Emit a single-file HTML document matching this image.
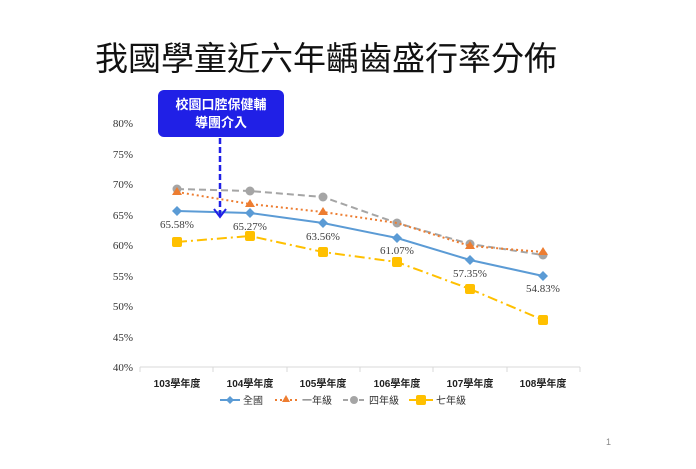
<!DOCTYPE html>
<html><head><meta charset="utf-8"><style>
body{margin:0;background:#fff;width:696px;height:464px;overflow:hidden}
</style></head><body>
<svg width="696" height="464" xmlns="http://www.w3.org/2000/svg">
<text x="326" y="70" font-size="33" text-anchor="middle" font-family="'Liberation Sans','Noto Sans CJK TC',sans-serif" fill="#111">我國學童近六年齲齒盛行率分佈</text>
<g font-family="'Liberation Serif',serif" font-size="11" fill="#333" text-anchor="end">
<text x="133" y="127">80%</text><text x="133" y="158">75%</text><text x="133" y="188">70%</text><text x="133" y="219">65%</text><text x="133" y="249">60%</text><text x="133" y="280">55%</text><text x="133" y="310">50%</text><text x="133" y="341">45%</text><text x="133" y="371">40%</text>
</g>
<line x1="140" y1="367" x2="580" y2="367" stroke="#d9d9d9"/>
<g stroke="#d9d9d9"><line x1="140" y1="367" x2="140" y2="372"/><line x1="213" y1="367" x2="213" y2="372"/><line x1="287" y1="367" x2="287" y2="372"/><line x1="360" y1="367" x2="360" y2="372"/><line x1="433" y1="367" x2="433" y2="372"/><line x1="507" y1="367" x2="507" y2="372"/><line x1="580" y1="367" x2="580" y2="372"/></g>
<g font-family="'Liberation Sans','Noto Sans CJK TC',sans-serif" font-size="10" fill="#222" text-anchor="middle" font-weight="bold">
<text x="177" y="387">103學年度</text><text x="250" y="387">104學年度</text><text x="323" y="387">105學年度</text><text x="397" y="387">106學年度</text><text x="470" y="387">107學年度</text><text x="543" y="387">108學年度</text>
</g>
<polyline fill="none" stroke="#a5a5a5" stroke-width="2" stroke-dasharray="7,4" points="177,189 250,191 323,197 397,223 470,244 543,255"/>
<g fill="#a5a5a5"><circle cx="177" cy="189" r="4.5"/><circle cx="250" cy="191" r="4.5"/><circle cx="323" cy="197" r="4.5"/><circle cx="397" cy="223" r="4.5"/><circle cx="470" cy="244" r="4.5"/><circle cx="543" cy="255" r="4.5"/></g>
<polyline fill="none" stroke="#ed7d31" stroke-width="2" stroke-dasharray="2,3" points="177,192 250,204 323,212 397,223 470,246 543,252"/>
<g fill="#ed7d31"><path d="M177,187l5,8h-10z"/><path d="M250,199l5,8h-10z"/><path d="M323,207l5,8h-10z"/><path d="M470,241l5,8h-10z"/><path d="M543,247l5,8h-10z"/></g>
<polyline fill="none" stroke="#5b9bd5" stroke-width="2" points="177,211 250,213 323,223 397,238 470,260 543,276"/>
<g fill="#5b9bd5"><path d="M177,206l5,5l-5,5l-5,-5z"/><path d="M250,208l5,5l-5,5l-5,-5z"/><path d="M323,218l5,5l-5,5l-5,-5z"/><path d="M397,233l5,5l-5,5l-5,-5z"/><path d="M470,255l5,5l-5,5l-5,-5z"/><path d="M543,271l5,5l-5,5l-5,-5z"/></g>
<polyline fill="none" stroke="#ffc000" stroke-width="2" stroke-dasharray="10,4,2,4" points="177,242 250,236 323,252 397,262 470,289 543,320"/>
<g fill="#ffc000"><rect x="172" y="237" width="10" height="10" rx="2"/><rect x="245" y="231" width="10" height="10" rx="2"/><rect x="318" y="247" width="10" height="10" rx="2"/><rect x="392" y="257" width="10" height="10" rx="2"/><rect x="465" y="284" width="10" height="10" rx="2"/><rect x="538" y="315" width="10" height="10" rx="2"/></g>
<g font-family="'Liberation Serif',serif" font-size="11" fill="#404040" text-anchor="middle">
<text x="177" y="228">65.58%</text><text x="250" y="230">65.27%</text><text x="323" y="240">63.56%</text><text x="397" y="254">61.07%</text><text x="470" y="277">57.35%</text><text x="543" y="292">54.83%</text>
</g>
<rect x="158" y="90" width="126" height="47" rx="6" fill="#2020e6"/>
<g font-family="'Liberation Sans','Noto Sans CJK TC',sans-serif" font-size="13" fill="#fff" text-anchor="middle" font-weight="bold">
<text x="221" y="109">校園口腔保健輔</text><text x="221" y="127">導團介入</text></g>
<line x1="220" y1="138" x2="220" y2="216" stroke="#2020e6" stroke-width="2.5" stroke-dasharray="6,3"/>
<path d="M214,209l6,8l6,-8" fill="none" stroke="#2020e6" stroke-width="2"/>
<g font-family="'Liberation Sans','Noto Sans CJK TC',sans-serif" font-size="10" fill="#333">
<line x1="220" y1="400" x2="240" y2="400" stroke="#5b9bd5" stroke-width="2"/><path d="M230,396l4,4l-4,4l-4,-4z" fill="#5b9bd5"/><text x="243" y="404">全國</text>
<line x1="275" y1="400" x2="297" y2="400" stroke="#ed7d31" stroke-width="2" stroke-dasharray="2,3"/><path d="M286,395l4,7h-8z" fill="#ed7d31"/><text x="302" y="404">一年級</text>
<line x1="343" y1="400" x2="365" y2="400" stroke="#a5a5a5" stroke-width="2" stroke-dasharray="5,3"/><circle cx="354" cy="400" r="4" fill="#a5a5a5"/><text x="369" y="404">四年級</text>
<line x1="409" y1="400" x2="434" y2="400" stroke="#ffc000" stroke-width="2" stroke-dasharray="8,3,2,3"/><rect x="416" y="395" width="10" height="10" rx="2" fill="#ffc000"/><text x="436" y="404">七年級</text>
</g>
<text x="606" y="445" font-family="'Liberation Sans',sans-serif" font-size="9" fill="#888">1</text>
</svg>
</body></html>
